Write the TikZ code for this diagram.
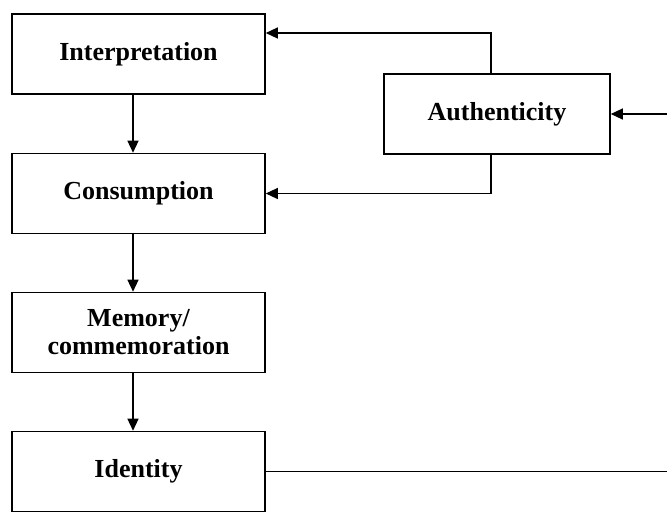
\documentclass[tikz,border=0pt]{standalone}
\usepackage{fontspec}
\setmainfont{Liberation Serif}
\usetikzlibrary{arrows.meta}
\begin{document}
\begin{tikzpicture}[x=1pt,y=-1pt,
  box/.style={draw, line width=1.6pt, minimum width=253pt, minimum height=80pt, inner sep=0pt,
    font=\fontsize{26}{28}\selectfont\bfseries, align=center},
  conn/.style={line width=1.3pt, -{Triangle[length=12pt,width=11pt]}},
  ]
\useasboundingbox (0,0) rectangle (667,512);
\clip (0,0) rectangle (667,512);
\node[box] (interp) at (138.5,54) {Interpretation};
\node[box] (cons) at (138.5,193.5) {Consumption};
\node[box] (mem) at (138.5,332.5) {Memory/\\commemoration};
\node[box] (ident) at (138.5,471.5) {Identity};
\node[box, minimum width=226pt] (auth) at (497,114) {Authenticity};
\coordinate (rt) at (680,0);
\draw[conn] ([xshift=-5.5pt]interp.south) -- ([xshift=-5.5pt]cons.north);
\draw[conn] ([xshift=-5.5pt]cons.south) -- ([xshift=-5.5pt]mem.north);
\draw[conn] ([xshift=-5.5pt]mem.south) -- ([xshift=-5.5pt]ident.north);
\draw[conn] ([xshift=-6pt]auth.north) |- ([yshift=21pt]interp.east);
\draw[conn] ([xshift=-6pt]auth.south) |- (cons.east);
\draw[conn] (ident.east) -- (ident.east -| rt) |- (auth.east);
\end{tikzpicture}
\end{document}
